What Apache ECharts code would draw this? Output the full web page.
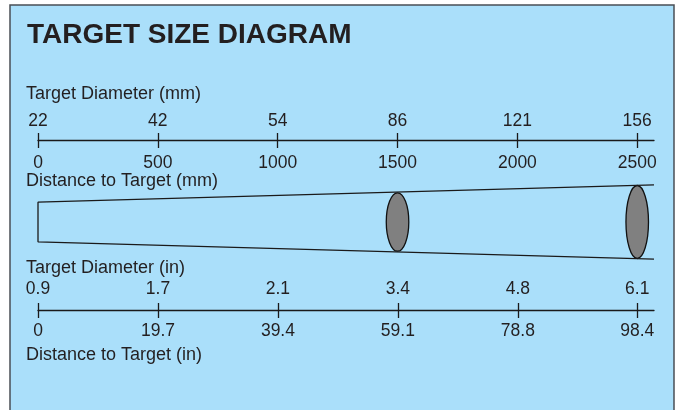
<!DOCTYPE html>
<html><head><meta charset="utf-8">
<script src="https://cdn.jsdelivr.net/npm/echarts@6/dist/echarts.min.js"></script>
<style>html,body{margin:0;padding:0;background:#fff}#c{width:681px;height:410px}</style>
</head><body><div id="c"></div>
<script>
// Distance ticks and matching target diameters
const distMm = [0, 500, 1000, 1500, 2000, 2500];
const diamMm = ['22', '42', '54', '86', '121', '156'];
const distIn = [0, 19.7, 39.4, 59.1, 78.8, 98.4];
const diamIn = ['0.9', '1.7', '2.1', '3.4', '4.8', '6.1'];
// Cone outline (distance in mm, half-width in diagram units)
const coneDist = [0, 2570];
const coneHalf = [19.8, 37.2];
// Target spots (distance mm, half-height diagram units, half-width mm)
const spotDist = [1500, 2500];
const spotHalfH = [29.2, 36.5];
const spotHalfW = [47, 47];

const FONT = 'Liberation Sans, Arial, Helvetica, sans-serif';
const TXT = '#231f20';
const AXC = '#1a1a1a';
const mmMax = 2570;
const inMax = 98.4 * mmMax / 2500;
const LBL = 17.5;
const TTL = 18;

function idxOf(arr, v) {
  let best = 0, d = Infinity;
  arr.forEach((a, i) => { if (Math.abs(a - v) < d) { d = Math.abs(a - v); best = i; } });
  return best;
}
function distAxis(grid, max, ticks, margin) {
  return {
    gridIndex: grid, type: 'value', min: 0, max: max, position: 'bottom',
    axisLine: { show: true, lineStyle: { color: AXC, width: 1.3 } },
    axisTick: { show: true, customValues: ticks, length: 8, lineStyle: { color: AXC, width: 1.3 } },
    axisLabel: { customValues: ticks, margin: margin, fontSize: LBL, fontFamily: FONT, color: TXT,
      formatter: v => String(v) },
    splitLine: { show: false }
  };
}
function diamAxis(grid, max, ticks, labels, margin) {
  return {
    gridIndex: grid, type: 'value', min: 0, max: max, position: 'bottom',
    axisLine: { show: false },
    axisTick: { show: true, inside: true, customValues: ticks, length: 7, lineStyle: { color: AXC, width: 1.3 } },
    axisLabel: { inside: true, customValues: ticks, margin: margin, fontSize: LBL, fontFamily: FONT, color: TXT,
      formatter: v => labels[idxOf(ticks, v)] },
    splitLine: { show: false }
  };
}

const conePts = [
  [coneDist[1], coneHalf[1]], [coneDist[0], coneHalf[0]],
  [coneDist[0], -coneHalf[0]], [coneDist[1], -coneHalf[1]]
];
const spots = spotDist.map((d, i) => [d, spotHalfH[i], spotHalfW[i]]);

const chart = echarts.init(document.getElementById('c'), null, { renderer: 'canvas' });
chart.setOption({
  backgroundColor: '#ffffff',
  animation: false,
  graphic: [
    { type: 'rect', z: -10, shape: { x: 10, y: 5, width: 664, height: 420 },
      style: { fill: '#aadffa', stroke: '#4a4f55', lineWidth: 1.5 } },
    { type: 'text', x: 27, y: 35.5, style: { text: 'TARGET SIZE DIAGRAM', fontSize: 28, fontWeight: 'bold',
      fontFamily: FONT, fill: TXT, verticalAlign: 'middle' } },
    { type: 'text', x: 26, y: 94.5, style: { text: 'Target Diameter (mm)', fontSize: TTL, fontFamily: FONT, fill: TXT, verticalAlign: 'middle' } },
    { type: 'text', x: 26, y: 181, style: { text: 'Distance to Target (mm)', fontSize: TTL, fontFamily: FONT, fill: TXT, verticalAlign: 'middle' } },
    { type: 'text', x: 26, y: 268.5, style: { text: 'Target Diameter (in)', fontSize: TTL, fontFamily: FONT, fill: TXT, verticalAlign: 'middle' } },
    { type: 'text', x: 26, y: 355.5, style: { text: 'Distance to Target (in)', fontSize: TTL, fontFamily: FONT, fill: TXT, verticalAlign: 'middle' } }
  ],
  grid: [
    { left: 38, right: 27, top: 100, height: 40 },
    { left: 38, right: 27, top: 182, height: 80 },
    { left: 38, right: 27, top: 270, height: 40 }
  ],
  xAxis: [
    distAxis(0, mmMax, distMm, 14),
    diamAxis(0, mmMax, distMm, diamMm, 10),
    { gridIndex: 1, type: 'value', min: 0, max: mmMax, show: false },
    distAxis(2, inMax, distIn, 12.5),
    diamAxis(2, inMax, distIn, diamIn, 12)
  ],
  yAxis: [
    { gridIndex: 0, type: 'value', show: false },
    { gridIndex: 1, type: 'value', min: -40, max: 40, show: false },
    { gridIndex: 2, type: 'value', show: false }
  ],
  series: [
    { type: 'line', xAxisIndex: 2, yAxisIndex: 1, data: conePts, showSymbol: false, symbol: 'none',
      lineStyle: { color: AXC, width: 1.3 }, clip: false, silent: true },
    { type: 'custom', xAxisIndex: 2, yAxisIndex: 1, data: spots, clip: false, silent: true,
      renderItem: function (params, api) {
        const x = api.value(0), h = api.value(1), w = api.value(2);
        const c = api.coord([x, 0]);
        const t = api.coord([x, h]);
        const r = api.coord([x + w, 0]);
        return { type: 'ellipse', shape: { cx: c[0], cy: c[1], rx: r[0] - c[0], ry: c[1] - t[1] },
          style: { fill: '#808080', stroke: '#111', lineWidth: 1.3 } };
      } }
  ]
});
</script></body></html>
